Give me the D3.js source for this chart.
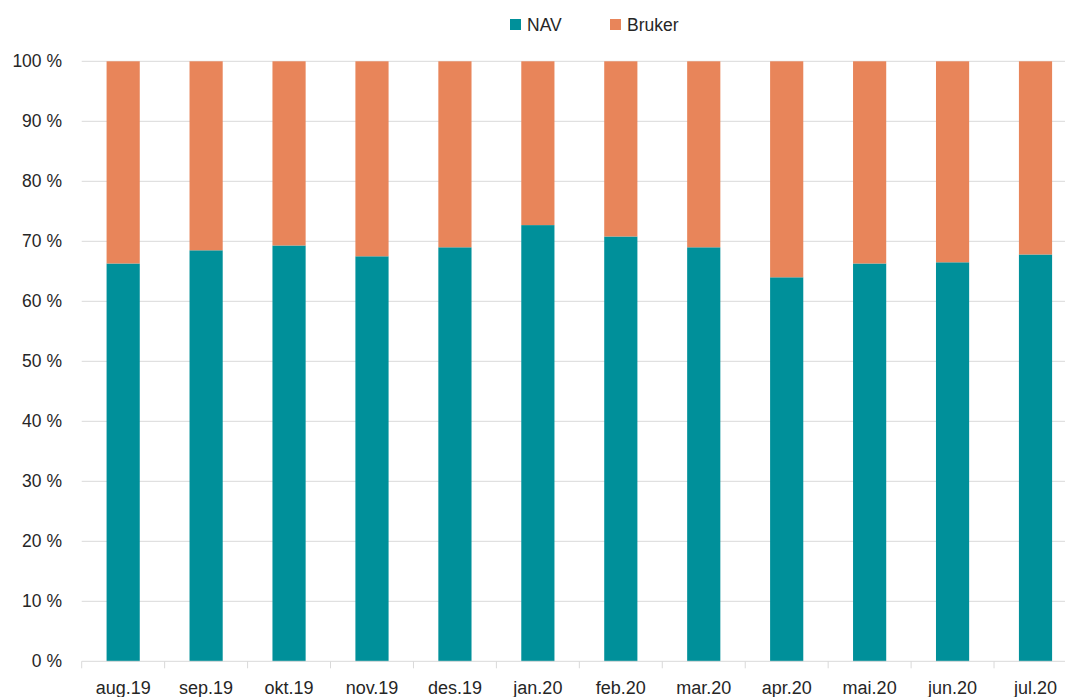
<!DOCTYPE html>
<html><head><meta charset="utf-8">
<script src="https://cdn.jsdelivr.net/npm/d3@7"></script>
<style>body{margin:0;background:#fff}svg{display:block}text{font-family:"Liberation Sans",Arial,sans-serif;fill:#262626}</style>
</head><body><svg id="c" width="1065" height="697"></svg>
<script>
const categories = ["aug.19","sep.19","okt.19","nov.19","des.19","jan.20","feb.20","mar.20","apr.20","mai.20","jun.20","jul.20"];
const navValues = [66.3,68.5,69.3,67.5,69.0,72.7,70.8,69.0,64.0,66.3,66.5,67.8];
const brukerValues = navValues.map(v => 100 - v);
const yTicks = [0,10,20,30,40,50,60,70,80,90,100];
const seriesNames = ["NAV","Bruker"];
const colors = ["#00909A","#E8855A"];

const svg = d3.select("#c");
const x = d3.scaleBand().domain(categories).range([81.7, 81.7 + 12*82.94]).paddingInner(0.6).paddingOuter(0.3);
const y = d3.scaleLinear().domain([0,100]).range([661.3, 61.3]);

// gridlines
svg.append("g").selectAll("line").data(yTicks.filter(d=>d>0)).join("line")
  .attr("x1", 81.7).attr("x2", 1065).attr("y1", d=>y(d)).attr("y2", d=>y(d))
  .attr("stroke", "#D9D9D9").attr("stroke-width", 1);

// stacked data
const rows = categories.map((c,i)=>({cat:c, NAV:navValues[i], Bruker:brukerValues[i]}));
const stack = d3.stack().keys(seriesNames)(rows);
svg.append("g").selectAll("g").data(stack).join("g")
  .attr("fill", (d,i)=>colors[i])
  .selectAll("rect").data(d=>d).join("rect")
  .attr("x", d=>x(d.data.cat)).attr("width", x.bandwidth())
  .attr("y", d=>y(d[1])).attr("height", d=>y(d[0])-y(d[1]));

// x axis
const xAxis = svg.append("g").attr("transform", "translate(0,661.3)");
xAxis.append("line").attr("x1",81.7).attr("x2",1065).attr("stroke","#D9D9D9");
const step = x.step();
xAxis.selectAll(".tk").data(d3.range(13)).join("line")
  .attr("x1", i=>81.7 + i*step).attr("x2", i=>81.7 + i*step)
  .attr("y1",0).attr("y2",7).attr("stroke","#D9D9D9");
xAxis.selectAll("text").data(categories).join("text")
  .attr("x", d=>x(d)+x.bandwidth()/2).attr("y", 33)
  .attr("text-anchor","middle").attr("font-size","18px").text(d=>d);

// y axis labels
svg.append("g").selectAll("text").data(yTicks).join("text")
  .attr("x", 62).attr("y", d=>y(d)+6)
  .attr("text-anchor","end").attr("font-size","17.5px").text(d=>d + " %");

// legend
const legend = svg.append("g");
const lx = [510, 610];
seriesNames.forEach((n,i)=>{
  legend.append("rect").attr("x", lx[i]).attr("y", 19).attr("width", 11).attr("height", 11).attr("fill", colors[i]);
  legend.append("text").attr("x", lx[i]+17).attr("y", 31).attr("font-size","17.5px").text(n);
});
</script></body></html>
